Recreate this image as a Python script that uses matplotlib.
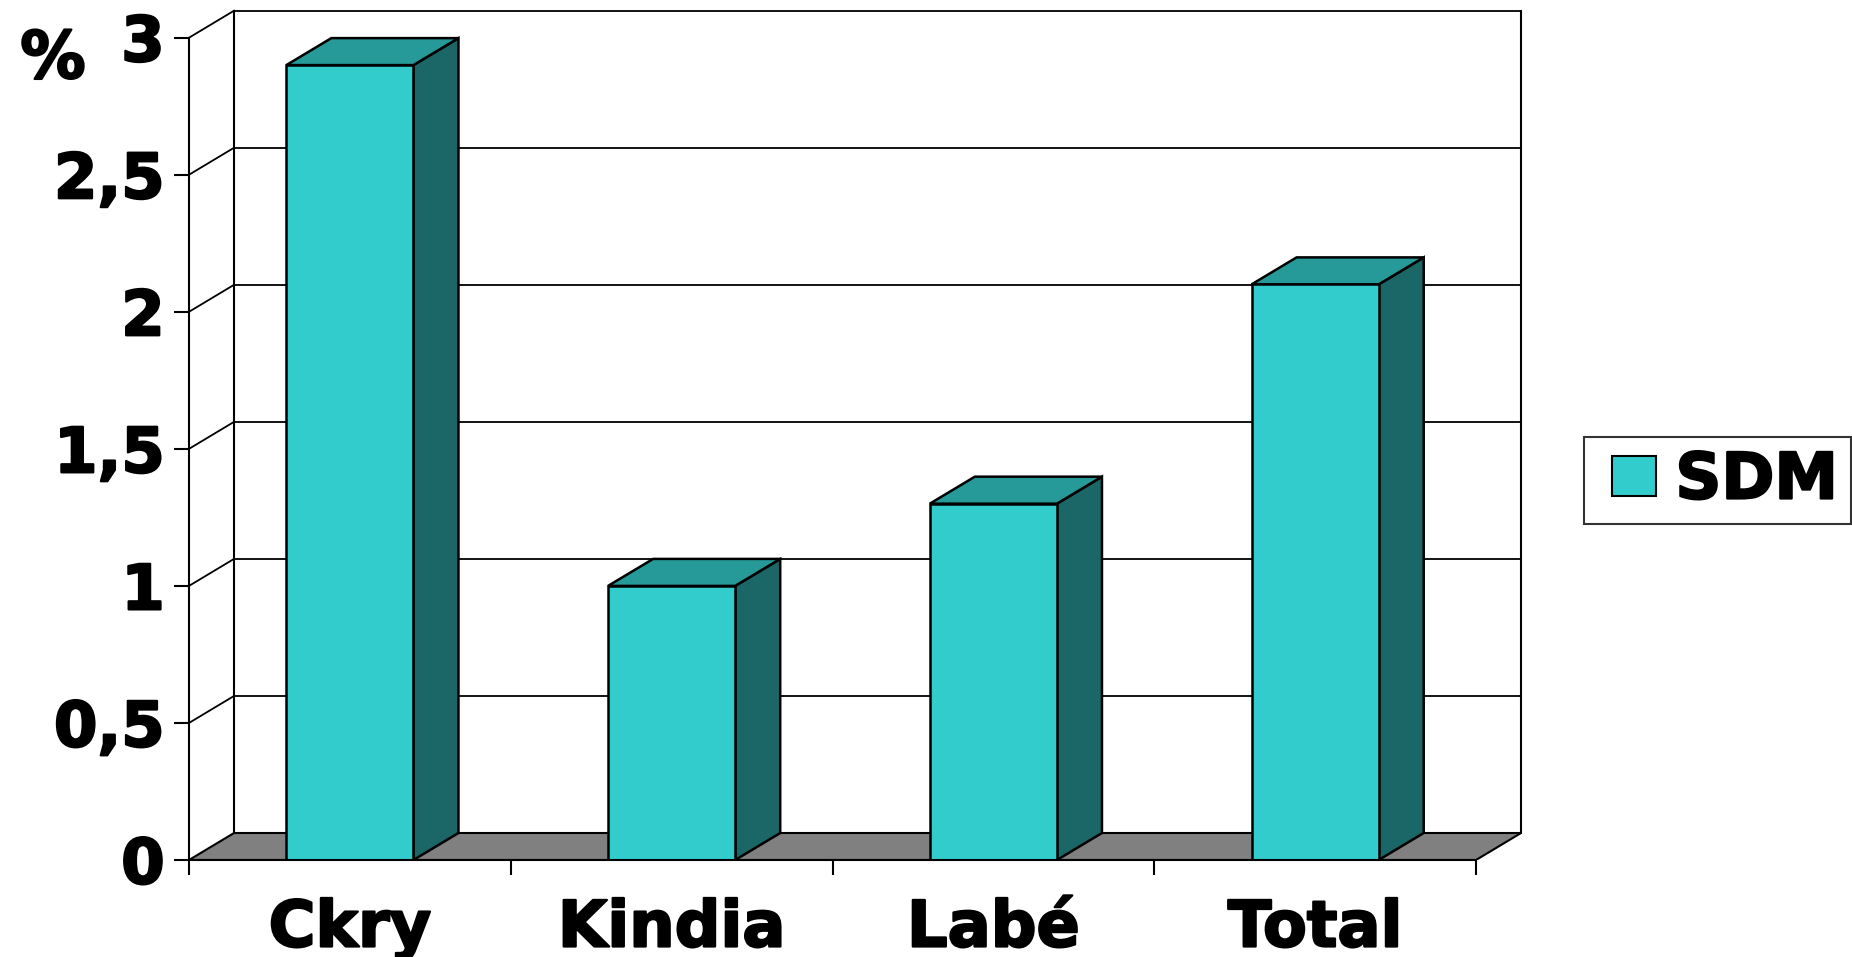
import numpy as np
import matplotlib
matplotlib.use('Agg')
import matplotlib.pyplot as plt
import matplotlib.patheffects as pe
from matplotlib.patches import Polygon, Patch, Rectangle
from matplotlib.legend_handler import HandlerPatch

# donnees
categories = ['Ckry', 'Kindia', 'Labé', 'Total']
sdm = [2.9, 1.0, 1.3, 2.1]
yticks = [0, 0.5, 1, 1.5, 2, 2.5, 3]
ytick_labels = ['0', '0,5', '1', '1,5', '2', '2,5', '3']

# couleurs
c_front = '#33CCCC'
c_top = '#269999'
c_side = '#1B6666'
c_floor = '#808080'

plt.rcParams['font.family'] = ['DejaVu Sans']
plt.rcParams['font.weight'] = 'bold'

# un peu plus gras, facon Verdana Bold
heavy = [pe.withStroke(linewidth=1.6, foreground='black')]

W, H, DPI = 1852, 957, 100
fig = plt.figure(figsize=(W / DPI, H / DPI), dpi=DPI)

n = len(categories)
ymax = 3.0
dx = 0.14     # profondeur en unites de categorie
dy = 0.0985   # profondeur en unites de valeur
bw = 0.395    # largeur des barres

# axes places pour que l'axe avant aille de x=189px a x=1476px, y0 a 860px
px_x = 1287 / n
px_y = 822.3 / ymax
left = 189 / W
bottom = (H - 860) / H
ax = fig.add_axes([left, bottom, (n + dx) * px_x / W, (ymax + dy) * px_y / H])
ax.set_xlim(0, n + dx)
ax.set_ylim(0, ymax + dy)
ax.set_facecolor('none')

# sol gris
floor = Polygon([(0, 0), (n, 0), (n + dx, dy), (dx, dy)], closed=True,
                facecolor=c_floor, edgecolor='black', lw=1.5, zorder=1)
ax.add_patch(floor)

# grille : paroi gauche + mur du fond
for v in yticks[1:]:
    ax.plot([0, dx], [v, v + dy], color='black', lw=1.3, zorder=1, clip_on=False)
    ax.plot([dx, n + dx], [v + dy, v + dy], color='black', lw=1.3, zorder=1, clip_on=False)
ax.plot([dx, dx], [dy, ymax + dy], color='black', lw=1.5, zorder=1, clip_on=False)
ax.plot([n + dx, n + dx], [dy, ymax + dy], color='black', lw=1.5, zorder=1, clip_on=False)

# barres 3D
for i, v in enumerate(sdm):
    x0 = i + 0.5 - bw / 2
    x1 = i + 0.5 + bw / 2
    side = Polygon([(x1, 0), (x1 + dx, dy), (x1 + dx, v + dy), (x1, v)], closed=True,
                   facecolor=c_side, edgecolor='black', lw=1.8, zorder=3)
    top = Polygon([(x0, v), (x1, v), (x1 + dx, v + dy), (x0 + dx, v + dy)], closed=True,
                  facecolor=c_top, edgecolor='black', lw=1.8, zorder=3)
    ax.add_patch(side)
    ax.add_patch(top)
    ax.bar(i + 0.5, v, width=bw, color=c_front, edgecolor='black', lw=1.8, zorder=4)

# axes
for s in ['top', 'right']:
    ax.spines[s].set_visible(False)
ax.spines['left'].set_bounds(0, ymax)
ax.spines['bottom'].set_bounds(0, n)
ax.spines['left'].set_linewidth(1.5)
ax.spines['bottom'].set_linewidth(1.5)
ax.spines['left'].set_zorder(5)
ax.spines['bottom'].set_zorder(5)

ax.set_yticks(yticks)
ax.set_yticklabels(ytick_labels, fontsize=45, fontweight='bold')
ax.set_xticks(range(n + 1))
ax.set_xticklabels([])
ax.set_xticks(np.arange(n) + 0.5, minor=True)
ax.set_xticklabels(categories, minor=True, fontsize=46, fontweight='bold')
ax.tick_params(axis='y', which='major', length=10.5, width=1.5, pad=7)
ax.tick_params(axis='x', which='major', length=10.5, width=1.5)
ax.tick_params(axis='x', which='minor', length=0, pad=27)
for t in ax.get_yticklabels() + ax.get_xticklabels(minor=True):
    t.set_path_effects(heavy)

pct = fig.text(53 / W, 1 - 60 / H, '%', fontsize=47, fontweight='bold', ha='center', va='center')
pct.set_path_effects(heavy)


# carre de legende decale vers la droite (marge gauche plus large)
def legend_square(legend, orig_handle, xdescent, ydescent, width, height, fontsize):
    off = 0.25 * width
    return Rectangle((-xdescent + off, -ydescent), width - off, height)


leg = fig.legend(handles=[Patch(facecolor=c_front, edgecolor='black', lw=1.5, label='SDM')],
                 handler_map={Patch: HandlerPatch(patch_func=legend_square)},
                 loc='center left', bbox_to_anchor=(1584 / W, 1 - 480.5 / H),
                 fontsize=46, frameon=True, fancybox=False, handlelength=0.93,
                 handleheight=0.6, handletextpad=0.3, borderpad=0.2, borderaxespad=0)
leg.get_frame().set_edgecolor('black')
leg.get_frame().set_linewidth(1.5)
for t in leg.get_texts():
    t.set_fontweight('bold')
    t.set_path_effects(heavy)

fig.savefig('out.png', dpi=DPI)
